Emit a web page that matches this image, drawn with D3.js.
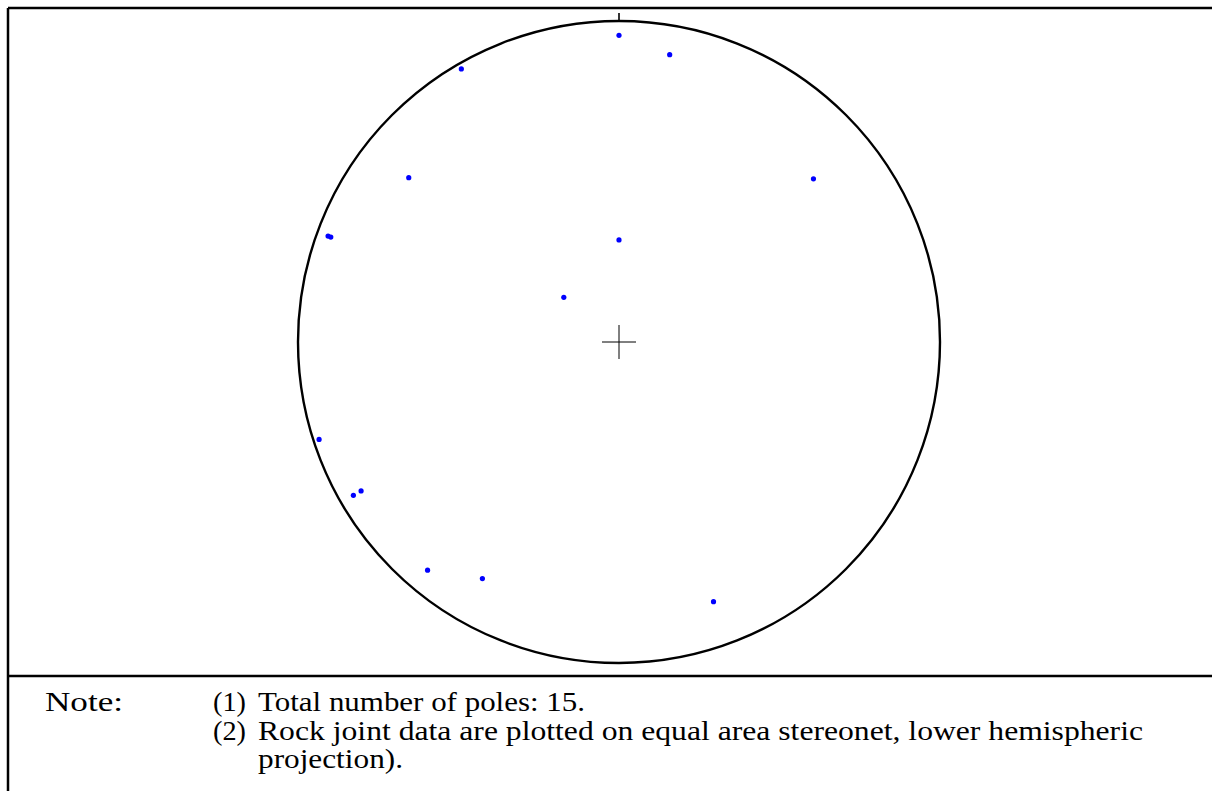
<!DOCTYPE html>
<html>
<head>
<meta charset="utf-8">
<script src="https://cdn.jsdelivr.net/npm/d3@7"></script>
<style>
  html, body { margin: 0; padding: 0; background: #fff; }
  svg { display: block; }
</style>
</head>
<body>
<svg id="chart" width="1212" height="791"></svg>
<script>
// Poles (trend in degrees clockwise from north, plunge in degrees)
const poleTrends   = [0, 10, 330, 308, 50, 290, 290, 0, 309, 252, 240, 240, 220, 210, 160];
const polePlunges  = [5, 10, 2, 18, 22, 4, 5, 64, 72, 2, 5, 8, 8, 16, 15];

const noteLabel = "Note:";
const noteNumbers = ["(1)", "(2)", ""];
const noteLines = [
  "Total number of poles: 15.",
  "Rock joint data are plotted on equal area stereonet, lower hemispheric",
  "projection)."
];

const svg = d3.select("#chart");
const W = 1212, H = 791;
const cx = 619, cy = 342, R = 321;

// frame
svg.append("line").attr("x1", 8).attr("x2", W).attr("y1", 8).attr("y2", 8)
  .attr("stroke", "#000").attr("stroke-width", 2.5);
svg.append("line").attr("x1", 8).attr("x2", 8).attr("y1", 8).attr("y2", H)
  .attr("stroke", "#000").attr("stroke-width", 2.5);
svg.append("line").attr("x1", 8).attr("x2", W).attr("y1", 676).attr("y2", 676)
  .attr("stroke", "#000").attr("stroke-width", 2.5);

const g = svg.append("g").attr("transform", `translate(${cx},${cy})`);

// equal-area (Schmidt) radial scale
const rScale = d3.scaleLinear().domain([0, Math.SQRT2]).range([0, R * Math.SQRT2]);
const radiusOf = p => rScale(Math.SQRT2 * Math.sin(((90 - p) / 2) * Math.PI / 180));

// primitive circle
g.append("circle").attr("r", R).attr("fill", "none")
  .attr("stroke", "#000").attr("stroke-width", 2.4);
// north tick
g.append("line").attr("x1", 0).attr("x2", 0).attr("y1", -R).attr("y2", -R - 8)
  .attr("stroke", "#000").attr("stroke-width", 1.6);
// centre cross
g.append("line").attr("x1", -17).attr("x2", 17).attr("y1", 0).attr("y2", 0)
  .attr("stroke", "#000").attr("stroke-width", 1);
g.append("line").attr("x1", 0).attr("x2", 0).attr("y1", -17).attr("y2", 17)
  .attr("stroke", "#000").attr("stroke-width", 1);

// poles
const poles = poleTrends.map((t, i) => ({ trend: t, plunge: polePlunges[i] }));
g.selectAll("circle.pole").data(poles).enter().append("circle")
  .attr("class", "pole")
  .attr("cx", d => d3.pointRadial(d.trend * Math.PI / 180, radiusOf(d.plunge))[0])
  .attr("cy", d => d3.pointRadial(d.trend * Math.PI / 180, radiusOf(d.plunge))[1])
  .attr("r", 2.6)
  .attr("fill", "#0000ff");

// notes
const font = "'Liberation Serif', 'Times New Roman', serif";
const fs = 26.5;
const baselines = [711, 740, 768];
const lineWidths = [327, 885, 145];
function addText(x, y, s, len) {
  const t = svg.append("text").attr("x", x).attr("y", y).text(s)
    .attr("font-family", font).attr("font-size", fs).attr("fill", "#000");
  if (len) t.attr("textLength", len).attr("lengthAdjust", "spacingAndGlyphs");
  return t;
}
addText(45, baselines[0], noteLabel, 78);
noteNumbers.forEach((n, i) => { if (n) addText(213, baselines[i], n, 33); });
noteLines.forEach((s, i) => addText(258, baselines[i], s, lineWidths[i]));
</script>
</body>
</html>
